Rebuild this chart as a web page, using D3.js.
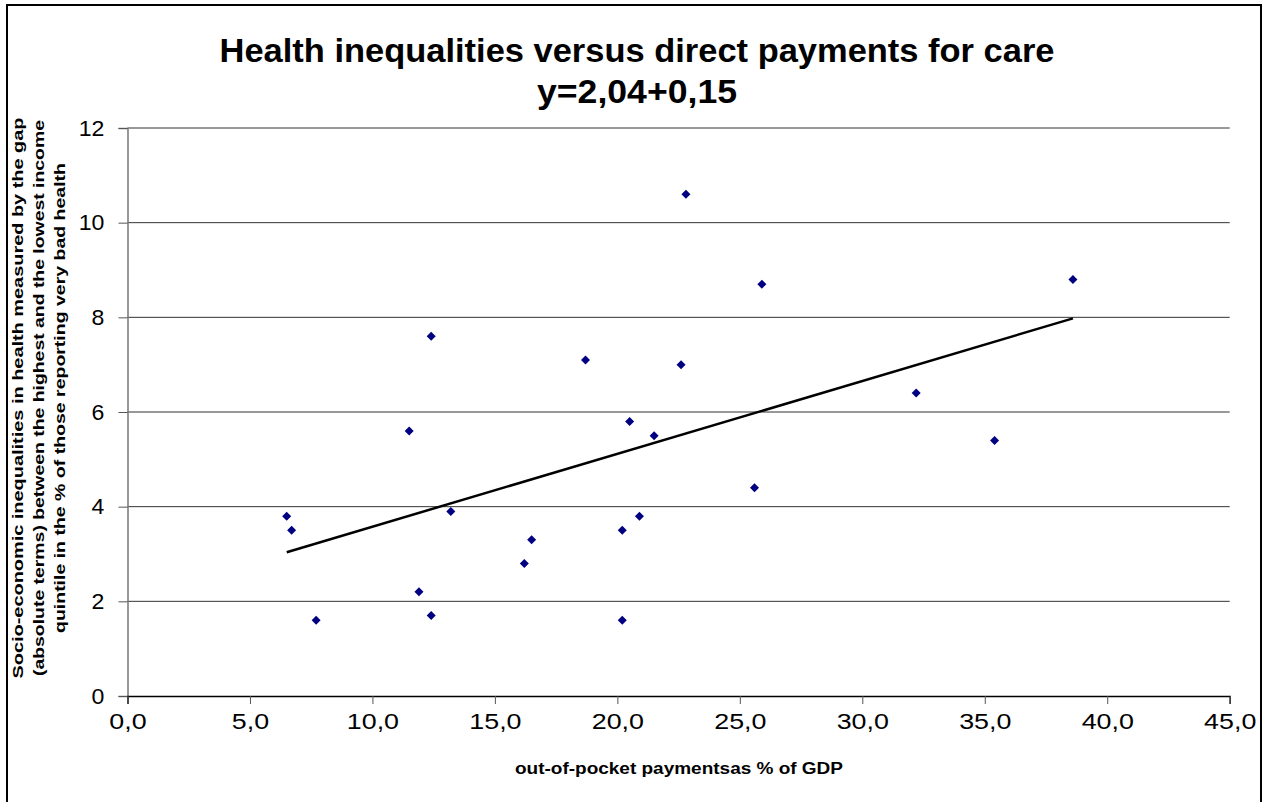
<!DOCTYPE html>
<html><head><meta charset="utf-8">
<script src="https://cdn.jsdelivr.net/npm/d3@7"></script>
<style>body{margin:0;background:#fff}svg{display:block;font-family:"Liberation Sans",Arial,sans-serif}</style>
</head><body><svg id="c" width="1269" height="802"></svg>
<script>
const titleLines = ["Health inequalities versus direct payments for care", "y=2,04+0,15"];
const xTitle = "out-of-pocket paymentsas % of GDP";
const yTitleLines = ["Socio-economic inequalities in health measured by the gap",
  "(absolute terms) between the highest and the lowest income",
  "quintile in the % of those reporting very bad health"];
const xTicks = [0,5,10,15,20,25,30,35,40,45];
const yTicks = [0,2,4,6,8,10,12];
const outOfPocket = [12.4,18.7,22.6,11.5,20.5,21.5,6.5,6.7,13.2,16.5,16.2,20.2,20.9,11.9,7.7,12.4,20.2,22.8,25.9,38.6,32.2,35.4,25.6];
const inequality  = [7.6,7.1,7.0,5.6,5.8,5.5,3.8,3.5,3.9,3.3,2.8,3.5,3.8,2.2,1.6,1.7,1.6,10.6,8.7,8.8,6.4,5.4,4.4];

const svg = d3.select("#c");
const L=127.5, R=1229.7, T=128, B=696;
const x = d3.scaleLinear().domain([0,45]).range([L,R]);
const y = d3.scaleLinear().domain([0,12]).range([B,T]);
const fmt = v => d3.format(".1f")(v).replace(".", ",");

// border
svg.append("rect").attr("x",7).attr("y",5).attr("width",1254).attr("height",810)
  .attr("fill","none").attr("stroke","#000").attr("stroke-width",2);

// gridlines
svg.append("g").selectAll("line").data(yTicks.filter(d=>d>0)).join("line")
  .attr("x1",L).attr("x2",R).attr("y1",d=>y(d)).attr("y2",d=>y(d))
  .attr("stroke","#333").attr("stroke-width",1);

// y axis
const ya = svg.append("g").attr("transform",`translate(${L},0)`)
  .call(d3.axisLeft(y).tickValues(yTicks).tickSize(9).tickPadding(13).tickFormat(d3.format("d")));
ya.select(".domain").attr("stroke","#777").attr("stroke-width",1.5);
ya.selectAll(".tick line").attr("stroke","#555");
ya.selectAll("text").attr("font-size",22).attr("font-family","Liberation Sans, Arial").attr("fill","#000")
  .attr("transform","scale(1.05,1)");

// x axis
const xa = svg.append("g").attr("transform",`translate(0,${B})`)
  .call(d3.axisBottom(x).tickValues(xTicks).tickSize(8).tickPadding(9).tickFormat(fmt));
xa.select(".domain").attr("stroke","#000").attr("stroke-width",1.5);
xa.selectAll(".tick line").attr("stroke","#555");
xa.selectAll("text").attr("font-size",22).attr("font-family","Liberation Sans, Arial").attr("fill","#000")
  .attr("transform","scale(1.22,1)");

// regression line
const pts = outOfPocket.map((v,i)=>[v,inequality[i]]);
const mx = d3.mean(outOfPocket), my = d3.mean(inequality);
const slope = d3.sum(pts,p=>(p[0]-mx)*(p[1]-my))/d3.sum(pts,p=>(p[0]-mx)**2);
const icpt = my - slope*mx;
const [x0,x1] = d3.extent(outOfPocket);
svg.append("line").attr("x1",x(x0)).attr("y1",y(icpt+slope*x0))
  .attr("x2",x(x1)).attr("y2",y(icpt+slope*x1))
  .attr("stroke","#000").attr("stroke-width",2.5);

// points
svg.append("g").selectAll("path").data(pts).join("path")
  .attr("transform",d=>`translate(${x(d[0])},${y(d[1])})`)
  .attr("d","M0,-4.5L4.5,0L0,4.5L-4.5,0Z").attr("fill","#000080");

// titles
const tg = svg.append("g").attr("font-weight","bold").attr("font-size",33).attr("text-anchor","middle");
const titleLen = [835, 200];
tg.selectAll("text").data(titleLines).join("text")
  .attr("x",637).attr("y",(d,i)=>62+i*41)
  .attr("textLength",(d,i)=>titleLen[i]).attr("lengthAdjust","spacingAndGlyphs")
  .text(d=>d);

svg.append("text").attr("x",679).attr("y",774).attr("text-anchor","middle")
  .attr("font-weight","bold").attr("font-size",16)
  .attr("textLength",328).attr("lengthAdjust","spacingAndGlyphs").text(xTitle);

const yLen = [561, 556, 470];
const yg = svg.append("g").attr("font-weight","bold").attr("font-size",14).attr("text-anchor","middle");
yg.selectAll("text").data(yTitleLines).join("text")
  .attr("transform",(d,i)=>`translate(${23+i*21},398) rotate(-90)`)
  .attr("textLength",(d,i)=>yLen[i]).attr("lengthAdjust","spacingAndGlyphs")
  .text(d=>d);
</script></body></html>
